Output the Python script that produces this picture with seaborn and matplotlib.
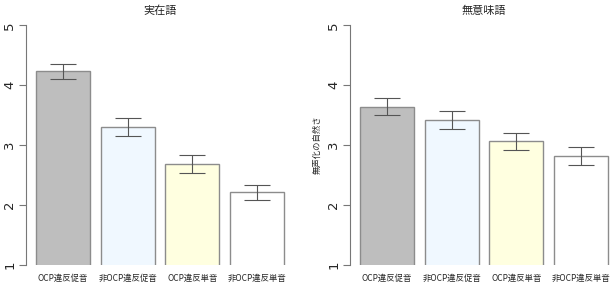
import matplotlib
matplotlib.use("Agg")
import matplotlib.pyplot as plt
import matplotlib.patches as mpatches
import seaborn as sns
import pandas as pd
import numpy as np

categories = ["OCP違反促音", "非OCP違反促音", "OCP違反単音", "非OCP違反単音"]
colors = ["#BEBEBE", "#F0F8FF", "#FFFFE0", "#FFFFFF"]

real_title = "実在語"
real_means = [4.23, 3.30, 2.69, 2.21]
real_err = [0.12, 0.15, 0.15, 0.13]

non_title = "無意味語"
non_means = [3.64, 3.41, 3.06, 2.81]
non_err = [0.14, 0.15, 0.14, 0.15]

ylabel_right = "無声化の自然さ"
yticks = [1, 2, 3, 4, 5]
ybase = 1

sns.set_style("white")
plt.rcParams['font.family'] = ['Noto Sans CJK JP', 'DejaVu Sans']

fig = plt.figure(figsize=(6.1, 2.86), dpi=100)
ax1 = fig.add_axes([26/610, 0.041, 268/610, 0.904])
ax2 = fig.add_axes([350/610, 0.041, 268/610, 0.904])

def panel(ax, means, errs, title, ylabel=None):
    df = pd.DataFrame({"cat": categories, "val": means})
    sns.barplot(data=df, x="cat", y="val", hue="cat", palette=colors, legend=False,
                width=1/1.2, saturation=1, edgecolor="#8c8c8c", linewidth=1.0, ax=ax)
    # R-style: bars are clipped at the lower axis limit (1)
    clip = mpatches.Rectangle((-10, ybase), 20, 20, transform=ax.transData,
                              facecolor="none", edgecolor="none")
    ax.add_patch(clip)
    for p in ax.patches:
        if p is not clip:
            p.set_clip_path(clip)
    ax.errorbar(x=np.arange(len(means)), y=means, yerr=errs, fmt="none",
                ecolor="#555555", elinewidth=0.8, capsize=9.7, capthick=0.8)
    ax.set_xlim(-0.57, 3.57)
    ax.set_ylim(0.84, 5.16)
    ax.set_yticks(yticks)
    ax.set_yticklabels([str(t) for t in yticks], rotation=90, va="center",
                       fontsize=9.5, family="DejaVu Sans")
    ax.tick_params(axis="y", length=5, width=0.8, color="#777777", pad=2,
                   left=True)
    ax.tick_params(axis="x", length=0, pad=0, labelsize=6)
    for s in ["top", "right", "bottom"]:
        ax.spines[s].set_visible(False)
    ax.spines["left"].set_bounds(1, 5)
    ax.spines["left"].set_color("#777777")
    ax.spines["left"].set_linewidth(0.8)
    ax.set_xlabel("")
    ax.set_ylabel(ylabel if ylabel else "", fontsize=6, labelpad=4)
    ax.set_title(title, fontsize=8, pad=1)
    ax.set_facecolor("none")

panel(ax1, real_means, real_err, real_title)
panel(ax2, non_means, non_err, non_title, ylabel_right)

fig.savefig("out.png", dpi=100)
